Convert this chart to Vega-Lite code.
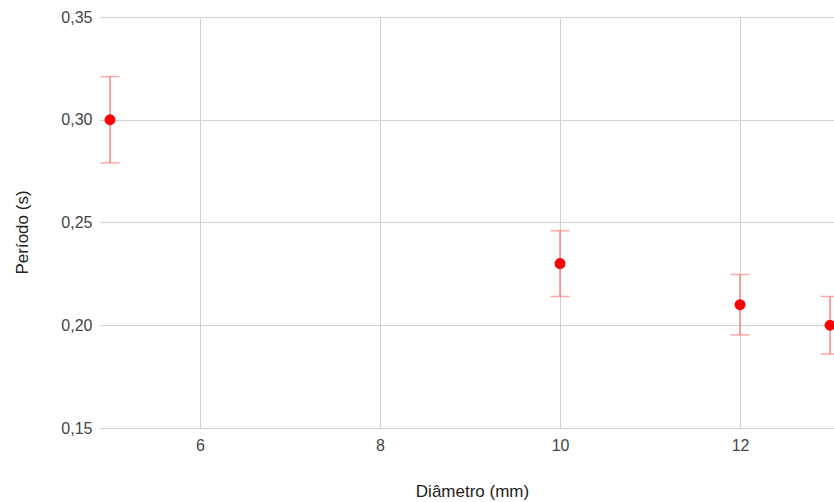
{
  "$schema": "https://vega.github.io/schema/vega-lite/v6.json",
  "autosize": "none",
  "width": 724,
  "height": 411,
  "padding": {"left": 110, "top": 17, "right": 0, "bottom": 74},
  "background": "white",
  "config": {
    "view": {"stroke": null},
    "font": "Liberation Sans",
    "axis": {
      "gridColor": "#d0d0d0",
      "gridWidth": 1,
      "domain": false,
      "labelFont": "Liberation Sans",
      "labelFontSize": 16,
      "labelColor": "#444444",
      "titleFont": "Liberation Sans",
      "titleFontSize": 17,
      "titleFontWeight": "normal",
      "titleColor": "#222222"
    }
  },
  "data": {
    "values": [
      {"d": 5, "p": 0.30, "lo": 0.279, "hi": 0.321},
      {"d": 10, "p": 0.23, "lo": 0.214, "hi": 0.246},
      {"d": 12, "p": 0.21, "lo": 0.1953, "hi": 0.2247},
      {"d": 13, "p": 0.20, "lo": 0.186, "hi": 0.214}
    ]
  },
  "encoding": {
    "x": {
      "field": "d",
      "type": "quantitative",
      "scale": {"domain": [5, 13.044], "nice": false, "zero": false},
      "axis": {
        "values": [6, 8, 10, 12],
        "title": "Diâmetro (mm)",
        "ticks": false,
        "labelPadding": 9,
        "titlePadding": 30
      }
    }
  },
  "layer": [
    {
      "mark": {"type": "rule", "color": "#ff8080", "strokeWidth": 1.5},
      "encoding": {
        "y": {
          "field": "lo",
          "type": "quantitative",
          "scale": {"domain": [0.15, 0.35], "nice": false, "zero": false},
          "axis": {
            "values": [0.15, 0.2, 0.25, 0.3, 0.35],
            "title": "Período (s)",
            "labelExpr": "replace(format(datum.value, '.2f'), '.', ',')",
            "ticks": true,
            "tickSize": 10,
            "tickColor": "#d0d0d0",
            "labelPadding": 8,
            "titlePadding": 29,
            "titleY": 215
          }
        },
        "y2": {"field": "hi"}
      }
    },
    {
      "mark": {"type": "tick", "orient": "horizontal", "color": "#ff8080", "size": 19, "thickness": 1.5},
      "encoding": {"y": {"field": "lo", "type": "quantitative"}}
    },
    {
      "mark": {"type": "tick", "orient": "horizontal", "color": "#ff8080", "size": 19, "thickness": 1.5},
      "encoding": {"y": {"field": "hi", "type": "quantitative"}}
    },
    {
      "mark": {"type": "point", "filled": true, "color": "#ff0000", "opacity": 1, "size": 120},
      "encoding": {"y": {"field": "p", "type": "quantitative"}}
    }
  ]
}
